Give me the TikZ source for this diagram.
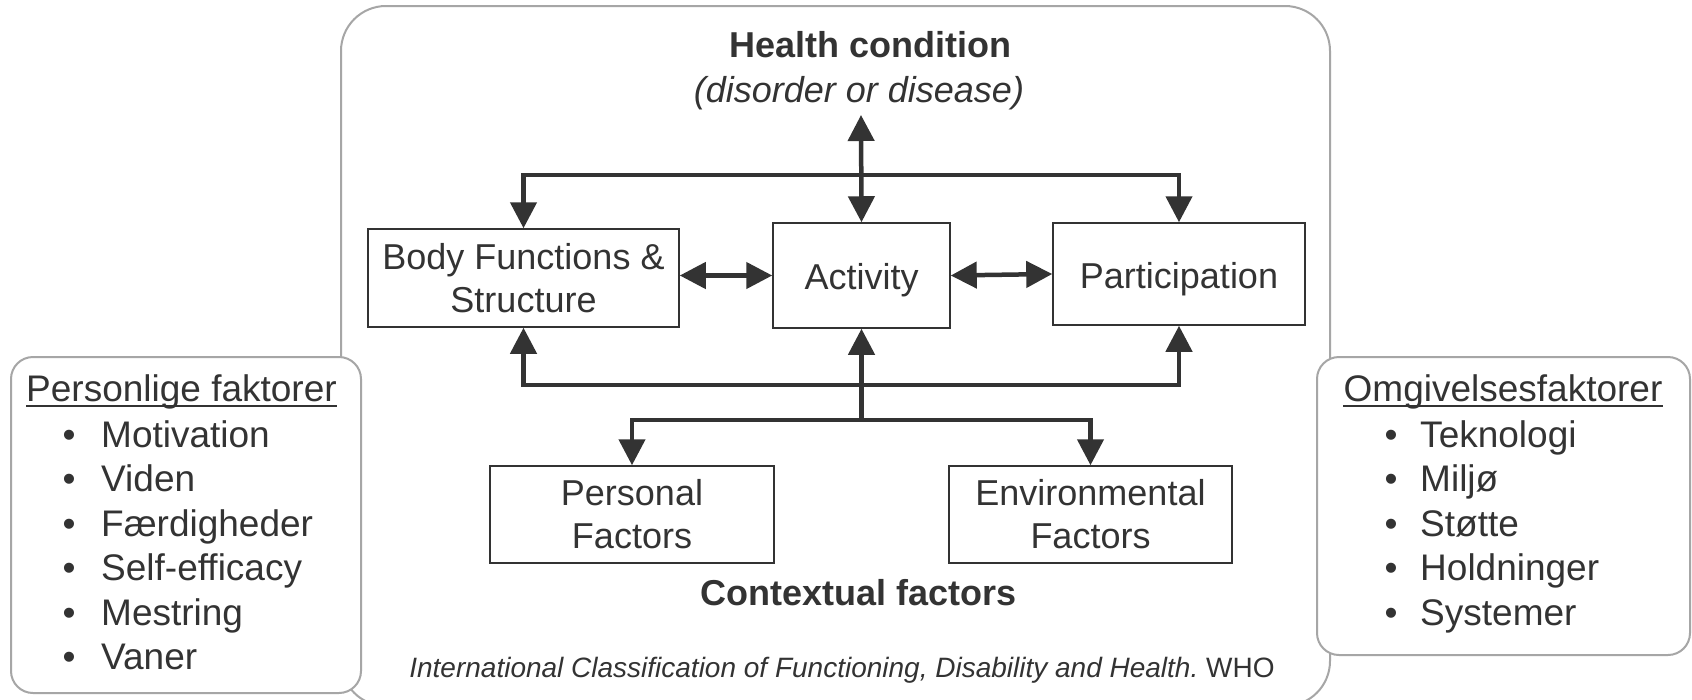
\documentclass[tikz,border=0pt]{standalone}
\usepackage{fontspec}
\setmainfont{Liberation Sans}
\usetikzlibrary{arrows.meta}
\definecolor{ink}{HTML}{333333}
\definecolor{frame}{HTML}{A6A6A6}
\begin{document}
\begin{tikzpicture}[x=1pt,y=-1pt,
  txt/.style={font=\fontsize{36}{43}\selectfont, text=ink, inner sep=0pt},
  ltxt/.style={font=\fontsize{37}{44}\selectfont, text=ink, inner sep=0pt},
  txtb/.style={font=\fontsize{36}{43}\selectfont\bfseries, text=ink, inner sep=0pt},
  txti/.style={font=\fontsize{36}{43}\selectfont\itshape, text=ink, inner sep=0pt},
  box/.style={draw=ink, line width=1.5pt, fill=white, align=center, txt},
  onebox/.style={box, text height=36pt, text depth=8pt},
  roundframe/.style={draw=frame, line width=2pt, fill=white, inner sep=0pt},
  conn/.style={draw=ink, line width=4.5pt, line join=miter,
    {Triangle[length=26pt,width=26pt]}-{Triangle[length=26pt,width=26pt]}},
  connup/.style={draw=ink, line width=4.5pt, -{Triangle[length=26pt,width=26pt]}},
  uline/.style={draw=ink, line width=2.4pt},
  bul/.style={ltxt, anchor=base},
  item/.style={ltxt, anchor=base west}
]
\useasboundingbox (0,0) rectangle (1692,699);
\fill[white] (0,0) rectangle (1692,699);

% main frame
\node[roundframe, rounded corners=45pt, minimum width=989pt, minimum height=700pt] (main) at (835.5,356) {};

% side frames
\node[roundframe, rounded corners=22pt, minimum width=350pt, minimum height=336pt] (pframe) at (186,525) {};
\node[roundframe, rounded corners=22pt, minimum width=373pt, minimum height=298pt] (eframe) at (1503.5,506) {};

% titles
\node[txtb, anchor=base] (hc) at (870,57) {Health condition};
\node[txti, anchor=base] (hcsub) at (859,102) {(disorder or disease)};
\coordinate (hctip) at (861,115);

% boxes
\node[box, minimum width=311pt, minimum height=98pt] (body) at (523.5,278) {Body Functions \&\\Structure};
\node[onebox, minimum width=177pt, minimum height=105pt] (act) at (861.5,275.5) {Activity};
\node[onebox, minimum width=252pt, minimum height=102pt] (part) at (1179,274) {Participation};
\node[box, minimum width=284pt, minimum height=97pt] (pers) at (632,514.5) {Personal\\Factors};
\node[box, minimum width=283pt, minimum height=97pt] (env) at (1090.5,514.5) {Environmental\\Factors};

\node[txtb, anchor=base] (ctx) at (859,605) {Contextual factors};
\node[txt, font=\fontsize{28}{33}\selectfont, anchor=base] (cite) at (842,677)
  {\itshape International Classification of Functioning, Disability and Health.\upshape\ WHO};

% connectors
\coordinate (hbar) at (0,175);
\coordinate (bbar) at (0,385);
\coordinate (cbar) at (0,420);
\draw[conn] (hctip) -- (act.north);
\draw[conn] (body.north) -- (body.north |- hbar) -- (part.north |- hbar) -- (part.north);
\draw[conn] (body.south) -- (body.south |- bbar) -- (part.south |- bbar) -- (part.south);
\draw[conn] (pers.north) -- (pers.north |- cbar) -- (env.north |- cbar) -- (env.north);
\draw[connup] (act.south |- cbar) -- (act.south);
\draw[conn] (body.east |- act.west) -- (act.west);
\draw[conn] (act.east) -- (part.west);

% left list
\node[ltxt, anchor=base] (pltitle) at (181.5,401) {Personlige faktorer};
\draw[uline] ([yshift=-5pt]pltitle.base west) -- ([yshift=-5pt]pltitle.base east);
\node[bul] (pb1) at (69,447) {•}; \node[item] (pl1) at (101,447) {Motivation};
\node[bul] (pb2) at (69,491.5) {•}; \node[item] (pl2) at (101,491.5) {Viden};
\node[bul] (pb3) at (69,536) {•}; \node[item] (pl3) at (101,536) {Færdigheder};
\node[bul] (pb4) at (69,580.5) {•}; \node[item] (pl4) at (101,580.5) {Self-efficacy};
\node[bul] (pb5) at (69,625) {•}; \node[item] (pl5) at (101,625) {Mestring};
\node[bul] (pb6) at (69,669.5) {•}; \node[item] (pl6) at (101,669.5) {Vaner};

% right list
\node[ltxt, anchor=base] (ertitle) at (1503,401) {Omgivelsesfaktorer};
\draw[uline] ([yshift=-5pt]ertitle.base west) -- ([yshift=-5pt]ertitle.base east);
\node[bul] (eb1) at (1391,447) {•}; \node[item] (el1) at (1420,447) {Teknologi};
\node[bul] (eb2) at (1391,491.5) {•}; \node[item] (el2) at (1420,491.5) {Miljø};
\node[bul] (eb3) at (1391,536) {•}; \node[item] (el3) at (1420,536) {Støtte};
\node[bul] (eb4) at (1391,580.5) {•}; \node[item] (el4) at (1420,580.5) {Holdninger};
\node[bul] (eb5) at (1391,625) {•}; \node[item] (el5) at (1420,625) {Systemer};
\end{tikzpicture}
\end{document}
